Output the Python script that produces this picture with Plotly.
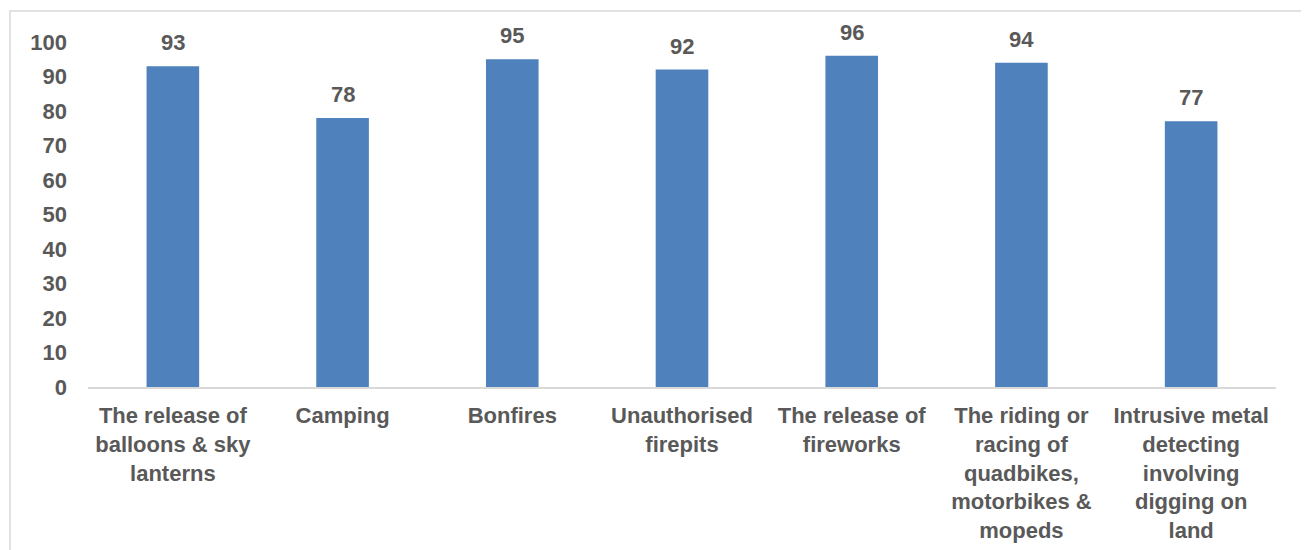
import plotly.graph_objects as go

categories = [
    "The release of<br>balloons & sky<br>lanterns",
    "Camping",
    "Bonfires",
    "Unauthorised<br>firepits",
    "The release of<br>fireworks",
    "The riding or<br>racing of<br>quadbikes,<br>motorbikes &<br>mopeds",
    "Intrusive metal<br>detecting<br>involving<br>digging on<br>land",
]
values = [93, 78, 95, 92, 96, 94, 77]
y_ticks = list(range(0, 101, 10))

FONT = "Liberation Sans, Arial, sans-serif"
TXT = "#595959"
FS = 22

fig = go.Figure()
fig.add_trace(go.Bar(
    x=categories, y=values,
    marker=dict(color="#4F81BD", line=dict(width=0)),
    width=0.31,
    cliponaxis=False,
))

for c, v in zip(categories, values):
    fig.add_annotation(x=c, y=v, text=str(v), showarrow=False,
                       yanchor="bottom", yshift=9,
                       font=dict(family=FONT, size=FS, color=TXT, weight="bold"))

fig.add_shape(type="rect", xref="paper", yref="paper",
              x0=-0.0657, x1=1.0244, y0=-0.6, y1=1.0899,
              line=dict(color="#D9D9D9", width=1.5), fillcolor="rgba(0,0,0,0)",
              layer="below")

fig.update_layout(
    width=1301, height=542,
    margin=dict(l=80, r=33, t=34, b=163),
    plot_bgcolor="white", paper_bgcolor="white",
    showlegend=False,
    font=dict(family=FONT, color=TXT, size=FS),
    xaxis=dict(
        showline=True, linecolor="#D9D9D9", linewidth=2,
        tickfont=dict(family=FONT, size=FS, color=TXT, weight="bold"),
        ticks="", ticklabelstandoff=8, automargin=False,
    ),
    yaxis=dict(
        range=[0, 100], tickvals=y_ticks, showgrid=False, zeroline=False,
        showline=False, automargin=False,
        tickfont=dict(family=FONT, size=FS, color=TXT, weight="bold"),
        ticklabelstandoff=20,
    ),
)

fig.write_html("out.html")
